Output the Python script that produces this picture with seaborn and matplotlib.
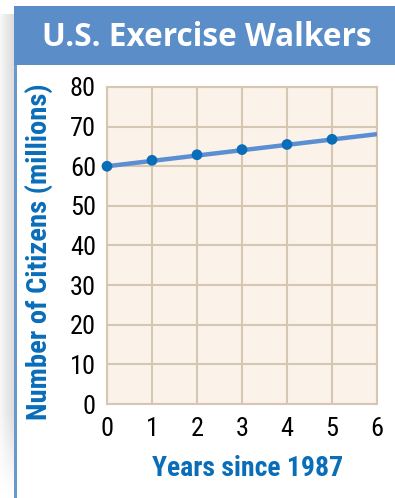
import numpy as np
import pandas as pd
import matplotlib
matplotlib.use("Agg")
import matplotlib.pyplot as plt
from matplotlib.patches import Rectangle
import seaborn as sns

# Walkers data: years since 1987 vs. millions of citizens
years = [0, 1, 2, 3, 4, 5]
walkers = [60.0, 61.5, 62.9, 64.2, 65.5, 66.8]
# trend line carried through to year 6
trend_years = [0, 6]
trend_walkers = [60.0, 68.1]

x_ticks = [0, 1, 2, 3, 4, 5, 6]
y_ticks = [0, 10, 20, 30, 40, 50, 60, 70, 80]

title = "U.S. Exercise Walkers"
x_label = "Years since 1987"
y_label = "Number of Citizens (millions)"

sns.set_style("white")
narrow = ["Liberation Sans Narrow", "Roboto Condensed", "DejaVu Sans"]
plt.rcParams["font.family"] = ["Liberation Sans", "DejaVu Sans"]

W, H = 395, 498
fig = plt.figure(figsize=(W / 100, H / 100), dpi=100)
fig.patch.set_facecolor("white")

def fx(px):
    return px / W

def fy(py):
    return 1 - py / H

# soft shadow down the left edge
shadow = fig.add_axes([0, 0, fx(14), fy(14)])
grad = np.linspace(0.97, 0.86, 50)[None, :]
vert = np.clip(np.linspace(0, 1, 60), 0, 1)[:, None]
img = 1 - (1 - grad) * np.clip(vert * 6, 0, 1)[::-1]
shadow.imshow(img, cmap="gray", vmin=0, vmax=1, aspect="auto", extent=[0, 1, 0, 1])
shadow.axis("off")

# frame: blue left rule and title banner
fig.patches.append(Rectangle((fx(14), 0), fx(3), fy(6), transform=fig.transFigure,
                             facecolor="#6898d0", edgecolor="none"))
fig.patches.append(Rectangle((fx(14), fy(65)), 1 - fx(14), fy(6) - fy(65),
                             transform=fig.transFigure, facecolor="#5b8dc8", edgecolor="none"))
fig.text(fx(207), fy(37), title, color="white", fontsize=22.8, fontweight="bold",
         ha="center", va="center", family=["Open Sans", "DejaVu Sans"])

ax_left, ax_right, ax_top, ax_bottom = 107, 377, 87, 404
ax = fig.add_axes([fx(ax_left), fy(ax_bottom), fx(ax_right) - fx(ax_left),
                   fy(ax_top) - fy(ax_bottom)])
ax.set_facecolor("#fbf2ea")

grid_c = "#d6c7b3"
sns.lineplot(x=trend_years, y=trend_walkers, ax=ax, color="#5b8fd2", linewidth=3.2,
             solid_capstyle="butt", zorder=3)
sns.scatterplot(x=years, y=walkers, ax=ax, color="#0a6db8", s=60, edgecolor="none",
                zorder=4, clip_on=False)

ax.set_xlim(0, 6)
ax.set_ylim(0, 80)
ax.set_xticks(x_ticks)
ax.set_yticks(y_ticks)
ax.grid(True, color=grid_c, linewidth=1.5)
ax.set_axisbelow(True)
for s in ax.spines.values():
    s.set_color(grid_c)
    s.set_linewidth(1.5)
ax.tick_params(length=0, labelsize=19, colors="black")
ax.tick_params(axis="y", pad=8)
ax.tick_params(axis="x", pad=9)
for lab in ax.get_xticklabels() + ax.get_yticklabels():
    lab.set_family(narrow)

ax.set_xlabel(x_label, color="#0a6db8", fontsize=20, fontweight="bold", family=narrow)
ax.set_ylabel(y_label, color="#0a6db8", fontsize=20.5, fontweight="bold", family=narrow)

def ax_coords(px, py):
    return ((px - ax_left) / (ax_right - ax_left),
            (ax_bottom - py) / (ax_bottom - ax_top))

ax.xaxis.set_label_coords(*ax_coords(248, 455))
ax.yaxis.set_label_coords(*ax_coords(53, 252))

fig.savefig("out.png", dpi=100)
